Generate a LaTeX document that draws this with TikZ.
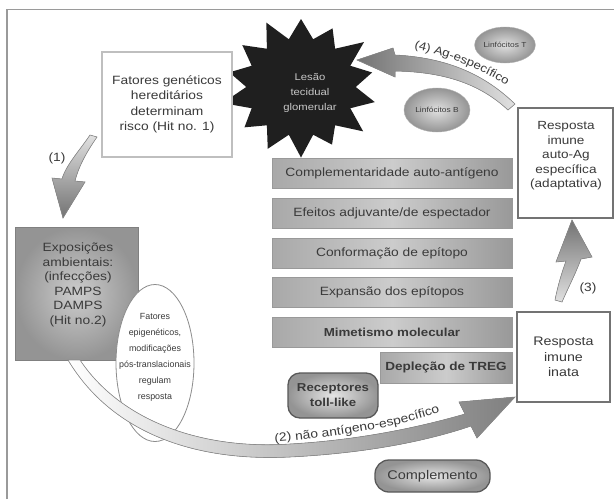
\documentclass[tikz,border=0pt]{standalone}
\usepackage{fontspec}
\setmainfont{Liberation Sans}
\newfontfamily\wfont[FakeStretch=1.15]{Liberation Sans}
\usetikzlibrary{shapes.geometric,decorations.text,calc}
\definecolor{txt}{HTML}{3A3A3A}
\definecolor{framec}{HTML}{9A9A9A}
\begin{document}
\begin{tikzpicture}[x=1pt,y=-1pt,
  wbox/.style={rectangle, fill=white, align=center, text=txt, inner sep=0pt},
  rbox/.style={wbox, draw=black!55, line width=1.2pt},
  bar/.style={rectangle, draw=black!40, line width=0.8pt, left color=black!34, right color=black!40, middle color=black!20,
    minimum width=240pt, minimum height=30pt, inner sep=0pt, text=txt, font=\wfont\fontsize{12}{14}\selectfont},
  lymph/.style={ellipse, inner color=black!12, outer color=black!42, draw=black!30, line width=0.4pt, inner sep=0pt,
    text=txt, font=\wfont\fontsize{7.3}{9}\selectfont},
  rnd/.style={rectangle, rounded corners=12pt, draw=black!65, line width=1.3pt, inner color=black!10, outer color=black!42,
    inner sep=0pt, align=center, text=txt},
  arr/.style={draw=black!45, line width=0.6pt},
  lab/.style={text=txt, font=\wfont\fontsize{12}{14}\selectfont, inner sep=1pt}
]
\useasboundingbox (0,0) rectangle (614,499);
\fill[white] (0,0) rectangle (614,499);
% frame
\draw[framec, line width=1.2pt] (7,499) -- (7,9.5) -- (614,9.5);

% star
\fill[black!88] plot[variable=\k, samples at={0,...,27}]
  ({301+76*(mod(\k,2)==0 ? (1+0.06*sin(\k*113)) : 0.72)*cos(\k*360/28-90)},
   {87+68*(mod(\k,2)==0 ? (1+0.06*sin(\k*113)) : 0.72)*sin(\k*360/28-90)}) -- cycle;
\node[text=black!22, align=center, font=\wfont\fontsize{9.8}{15}\selectfont] (lesao) at (310,93) {Lesão\\tecidual\\glomerular};

% genetic factors box
\node[wbox, draw=black!25, line width=2.2pt, minimum width=130pt, minimum height=105pt,
  font=\wfont\fontsize{12}{15.5}\selectfont] (gen) at (167,104.5) {Fatores genéticos\\hereditários\\determinam\\risco (Hit no. 1)};

% exposures box
\node[rectangle, draw=black!50, line width=1pt, inner color=black!20, outer color=black!42,
  minimum width=123pt, minimum height=133pt] (exp) at (76.5,293.5) {};
\node[align=center, text=txt, font=\wfont\fontsize{12}{14.5}\selectfont, inner sep=0pt] (exptext) at (78,285)
  {Exposições\\ambientais:\\(infecções)\\PAMPS\\DAMPS\\(Hit no.2)};

% epigenetic ellipse
\node[ellipse, draw=black!45, line width=0.8pt, fill=white, minimum width=78pt, minimum height=157pt, inner sep=0pt] (epi) at (155,363) {};

% arrow (2)
\filldraw[arr, left color=white, right color=black!50]
  (68,360) .. controls (110,430) and (190,462) .. (290,457)
  .. controls (370,453) and (430,440) .. (471,426) -- (477,438) -- (515,397) -- (459,402) -- (465,414)
  .. controls (420,427) and (360,440) .. (290,444)
  .. controls (200,450) and (120,420) .. (80,360) -- cycle;
\path[decorate, decoration={text along path, text align=center, text color=txt,
  text={|\wfont\fontsize{12}{14}\selectfont|(2) não antígeno-específico}}]
  (262,443) .. controls (330,438) and (400,428) .. (452,408);

\node[align=center, text=txt, font=\fontsize{8.9}{16}\selectfont, inner sep=0pt] (epitext) at (155,357)
  {Fatores\\epigenéticos,\\modificações\\pós-translacionais\\regulam\\resposta};

% bars
\node[bar] (b1) at (392,173) {Complementaridade auto-antígeno};
\node[bar] (b2) at (392,213) {Efeitos adjuvante/de espectador};
\node[bar] (b3) at (392,253) {Conformação de epítopo};
\node[bar] (b4) at (392,292) {Expansão dos epítopos};
\node[bar, font=\wfont\bfseries\fontsize{11.6}{14}\selectfont] (b5) at (392,332) {Mimetismo molecular};
\node[bar, minimum width=132pt, minimum height=31pt, font=\wfont\bfseries\fontsize{11.8}{14}\selectfont] (b6) at (446,367.5) {Depleção de TREG};

% right boxes
\node[rbox, minimum width=95pt, minimum height=110pt] (auto) at (565.5,163) {};
\node[align=center, text=txt, font=\wfont\fontsize{11.8}{14.5}\selectfont, inner sep=0pt] (autotext) at (566,156)
  {Resposta\\imune\\auto-Ag\\específica\\(adaptativa)};
\node[rbox, minimum width=93pt, minimum height=90pt, font=\wfont\fontsize{12.4}{15.5}\selectfont] (inata) at (563.5,357) {Resposta\\imune\\inata};

% lymphocytes
\node[lymph, minimum width=52pt, minimum height=36pt] (lt) at (505,45) {Linfócitos T};
\node[lymph, minimum width=66pt, minimum height=44pt] (lb) at (437,110) {Linfócitos B};

% rounded boxes
\node[rnd, minimum width=90pt, minimum height=45pt, font=\wfont\bfseries\fontsize{11.5}{15}\selectfont] (toll) at (333,395.5) {Receptores\\toll-like};
\node[rnd, rounded corners=14pt, minimum width=115pt, minimum height=32pt, font=\wfont\fontsize{12.6}{15}\selectfont] (comp) at (432.5,476) {Complemento};

% arrow (1)
\filldraw[arr, top color=black!12, bottom color=black!55]
  (90,135) .. controls (80,150) and (66,165) .. (62,179) -- (52,178) -- (63,218) -- (85,182) -- (75,181)
  .. controls (79,165) and (88,150) .. (97,137) -- cycle;
\node[lab] (l1) at (57,158) {(1)};

% arrow (3)
\filldraw[arr, top color=black!55, bottom color=black!12]
  (555,300) .. controls (558,285) and (562,272) .. (566,261) -- (556,262) -- (572,220) -- (592,257) -- (581,259)
  .. controls (575,275) and (568,288) .. (562,302) -- cycle;
\node[lab] (l3) at (588,288) {(3)};

% arrow (4)
\filldraw[arr, left color=black!55, right color=black!12]
  (515,104) .. controls (490,80) and (455,58) .. (395,55) -- (393,48) -- (357,60) -- (395,77) -- (395,71)
  .. controls (445,72) and (480,84) .. (508,110) -- cycle;
\path[decorate, decoration={text along path, text align=center, text color=txt,
  text={|\wfont\fontsize{11.5}{14}\selectfont|(4) Ag-específico}}]
  (404,46) .. controls (448,55) and (482,69) .. (515,91);
\end{tikzpicture}
\end{document}
